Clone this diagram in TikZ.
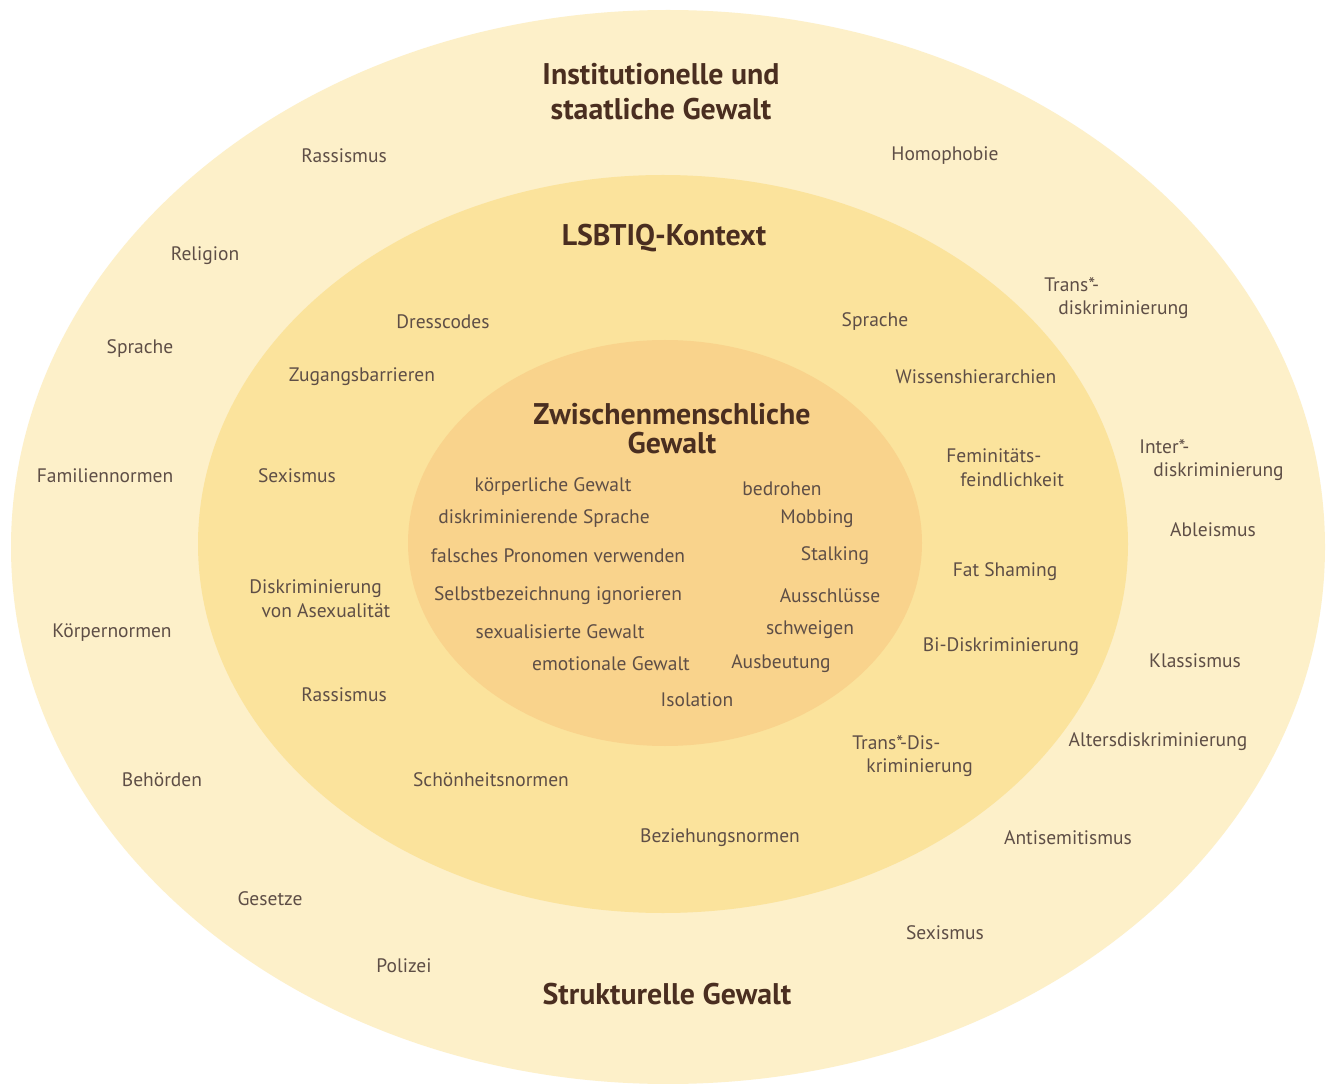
\documentclass[tikz,border=0pt]{standalone}
\usepackage{fontspec}
\setmainfont{PT Sans}
\definecolor{outerc}{HTML}{FDF0C9}
\definecolor{midc}{HTML}{FBE39C}
\definecolor{innerc}{HTML}{F9D38C}
\definecolor{txtc}{HTML}{5E4E46}
\definecolor{headc}{HTML}{4A2E20}
\tikzset{
  lbl/.style={text=txtc, font=\fontsize{11.1pt}{13.5pt}\selectfont, inner sep=0pt},
  lbll/.style={lbl, align=left, anchor=west},
  head/.style={text=headc, font=\fontsize{17pt}{20pt}\selectfont\bfseries, inner sep=0pt, align=center},
}
\begin{document}
\begin{tikzpicture}[x=0.02cm,y=-0.02cm]
\useasboundingbox (0,0) rectangle (1326,1084);
\clip (0,0) rectangle (1326,1084);
\fill[white] (0,0) rectangle (1326,1084);
% ellipses
\fill[outerc] (668,547) ellipse [x radius=657, y radius=537];
\fill[midc] (663,544) ellipse [x radius=465, y radius=369];
\fill[innerc] (665,543) ellipse [x radius=257, y radius=203];
% outer ring
\node[head] (h1) at (661,92) {Institutionelle und\\staatliche Gewalt};
\node[lbl] (o1) at (344,156) {Rassismus};
\node[lbl] (o2) at (945,156) {Homophobie};
\node[lbl] (o3) at (205,256) {Religion};
\node[lbll] (o4) at (1044,298) {Trans*-\\\hspace*{8pt}diskriminierung};
\node[lbl] (o5) at (140,349) {Sprache};
\node[lbll] (o6) at (1139,460) {Inter*-\\\hspace*{8pt}diskriminierung};
\node[lbl] (o7) at (105,476) {Familiennormen};
\node[lbl] (o8) at (1213,530) {Ableismus};
\node[lbl] (o9) at (112,633) {Körpernormen};
\node[lbl] (o10) at (1195,661) {Klassismus};
\node[lbl] (o11) at (1158,742) {Altersdiskriminierung};
\node[lbl] (o12) at (162,780) {Behörden};
\node[lbl] (o13) at (1068,838) {Antisemitismus};
\node[lbl] (o14) at (270,899) {Gesetze};
\node[lbl] (o15) at (945,933) {Sexismus};
\node[lbl] (o16) at (404,966) {Polizei};
\node[head] (h3) at (667,994) {Strukturelle Gewalt};
% middle ring
\node[head] (h2) at (664,238) {LSBTIQ-Kontext};
\node[lbl] (m1) at (443,322) {Dresscodes};
\node[lbl] (m2) at (875,322) {Sprache};
\node[lbl] (m3) at (362,377) {Zugangsbarrieren};
\node[lbl] (m4) at (976,377) {Wissenshierarchien};
\node[lbll] (m5) at (946,468) {Feminitäts-\\\hspace*{8pt}feindlichkeit};
\node[lbl] (m6) at (297,476) {Sexismus};
\node[lbl] (m7) at (1005,572) {Fat Shaming};
\node[lbll] (m8) at (249,599) {Diskriminierung\\\hspace*{7pt}von Asexualität};
\node[lbl] (m9) at (1001,647) {Bi-Diskriminierung};
\node[lbl] (m10) at (344,695) {Rassismus};
\node[lbll] (m11) at (852,756) {Trans*-Dis-\\\hspace*{8pt}kriminierung};
\node[lbl] (m12) at (491,780) {Schönheitsnormen};
\node[lbl] (m13) at (720,838) {Beziehungsnormen};
% inner
\node[head, font=\fontsize{17pt}{16.5pt}\selectfont\bfseries] (h4) at (672,429) {Zwischenmenschliche\\Gewalt};
\node[lbl] (i1) at (553,487) {körperliche Gewalt};
\node[lbl] (i2) at (782,489) {bedrohen};
\node[lbl] (i3) at (544,519) {diskriminierende Sprache};
\node[lbl] (i4) at (817,519) {Mobbing};
\node[lbl] (i5) at (558,556) {falsches Pronomen verwenden};
\node[lbl] (i6) at (835,556) {Stalking};
\node[lbl] (i7) at (558,596) {Selbstbezeichnung ignorieren};
\node[lbl] (i8) at (830,596) {Ausschlüsse};
\node[lbl] (i9) at (560,632) {sexualisierte Gewalt};
\node[lbl] (i10) at (810,630) {schweigen};
\node[lbl] (i11) at (611,664) {emotionale Gewalt};
\node[lbl] (i12) at (781,664) {Ausbeutung};
\node[lbl] (i13) at (697,700) {Isolation};
\end{tikzpicture}
\end{document}
